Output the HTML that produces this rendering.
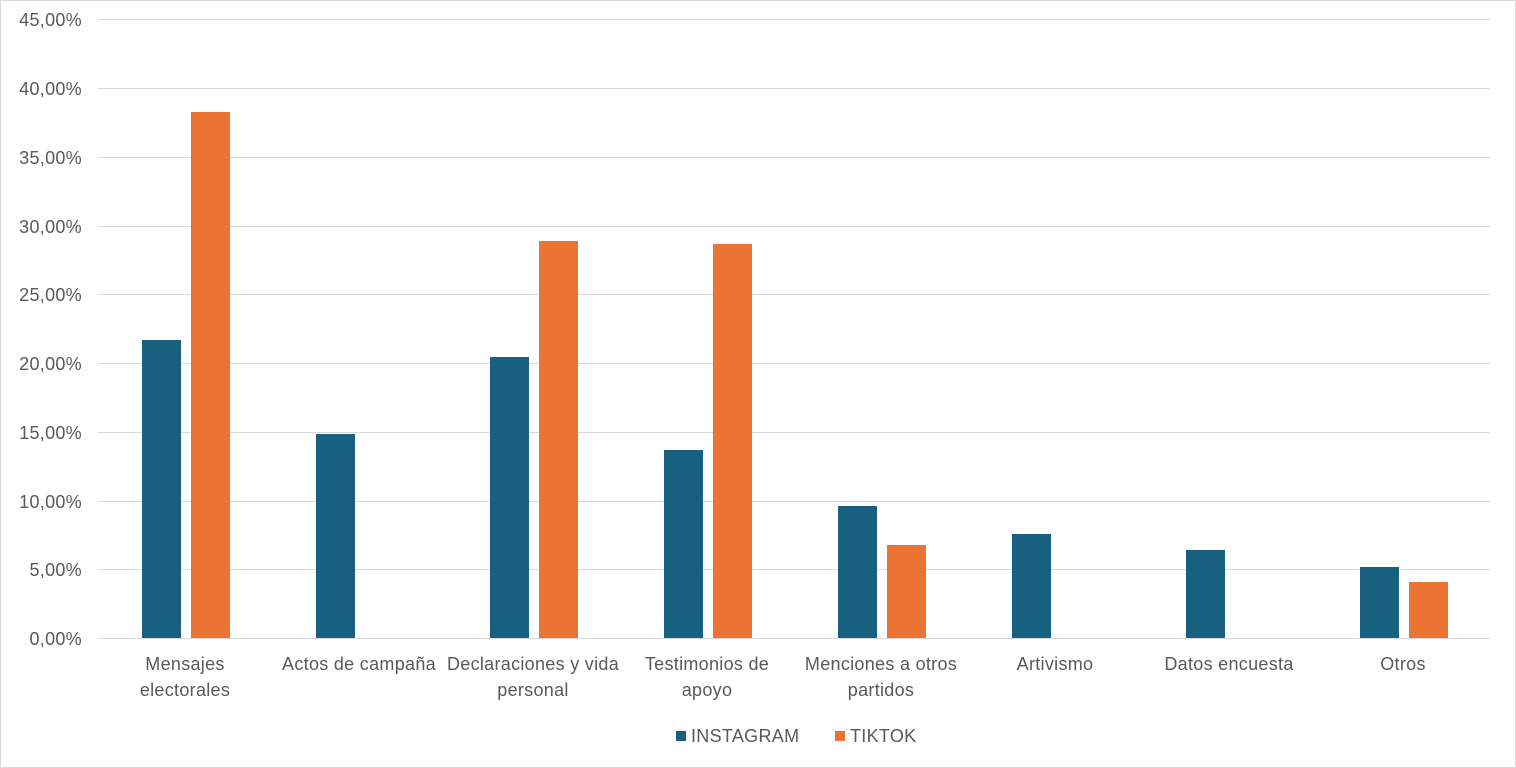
<!DOCTYPE html>
<html><head><meta charset="utf-8"><style>
html,body{margin:0;padding:0;background:#fff}
svg{display:block}
text{font-family:"Liberation Sans",Arial,sans-serif;fill:#595959;font-size:18px;letter-spacing:0.3px}
</style></head><body>
<svg width="1516" height="768" viewBox="0 0 1516 768" xmlns="http://www.w3.org/2000/svg">
<rect x="0.5" y="0.5" width="1515" height="767" fill="#fff" stroke="#d9d9d9"/>
<g stroke="#d9d9d9" stroke-width="1">
<line x1="98" x2="1490" y1="19.5" y2="19.5"/>
<line x1="98" x2="1490" y1="88.5" y2="88.5"/>
<line x1="98" x2="1490" y1="157.5" y2="157.5"/>
<line x1="98" x2="1490" y1="226.5" y2="226.5"/>
<line x1="98" x2="1490" y1="294.5" y2="294.5"/>
<line x1="98" x2="1490" y1="363.5" y2="363.5"/>
<line x1="98" x2="1490" y1="432.5" y2="432.5"/>
<line x1="98" x2="1490" y1="501.5" y2="501.5"/>
<line x1="98" x2="1490" y1="569.5" y2="569.5"/>
<line x1="98" x2="1490" y1="638.5" y2="638.5"/>
</g>
<g text-anchor="end">
<text x="82" y="26">45,00%</text>
<text x="82" y="95">40,00%</text>
<text x="82" y="164">35,00%</text>
<text x="82" y="233">30,00%</text>
<text x="82" y="301">25,00%</text>
<text x="82" y="370">20,00%</text>
<text x="82" y="439">15,00%</text>
<text x="82" y="508">10,00%</text>
<text x="82" y="576">5,00%</text>
<text x="82" y="645">0,00%</text>
</g>
<g fill="#17607f">
<rect x="142" y="340" width="39" height="298"/>
<rect x="316" y="434" width="39" height="204"/>
<rect x="490" y="357" width="39" height="281"/>
<rect x="664" y="450" width="39" height="188"/>
<rect x="838" y="506" width="39" height="132"/>
<rect x="1012" y="534" width="39" height="104"/>
<rect x="1186" y="550" width="39" height="88"/>
<rect x="1360" y="567" width="39" height="71"/>
</g>
<g fill="#eb7334">
<rect x="191" y="112" width="39" height="526"/>
<rect x="539" y="241" width="39" height="397"/>
<rect x="713" y="244" width="39" height="394"/>
<rect x="887" y="545" width="39" height="93"/>
<rect x="1409" y="582" width="39" height="56"/>
</g>
<g text-anchor="middle">
<text x="185" y="670">Mensajes</text><text x="185" y="696">electorales</text>
<text x="359" y="670">Actos de campaña</text>
<text x="533" y="670">Declaraciones y vida</text><text x="533" y="696">personal</text>
<text x="707" y="670">Testimonios de</text><text x="707" y="696">apoyo</text>
<text x="881" y="670">Menciones a otros</text><text x="881" y="696">partidos</text>
<text x="1055" y="670">Artivismo</text>
<text x="1229" y="670">Datos encuesta</text>
<text x="1403" y="670">Otros</text>
</g>
<rect x="676" y="731" width="10" height="10" fill="#17607f"/>
<text x="691" y="742">INSTAGRAM</text>
<rect x="835" y="731" width="10" height="10" fill="#eb7334"/>
<text x="850" y="742">TIKTOK</text>
</svg>
</body></html>
